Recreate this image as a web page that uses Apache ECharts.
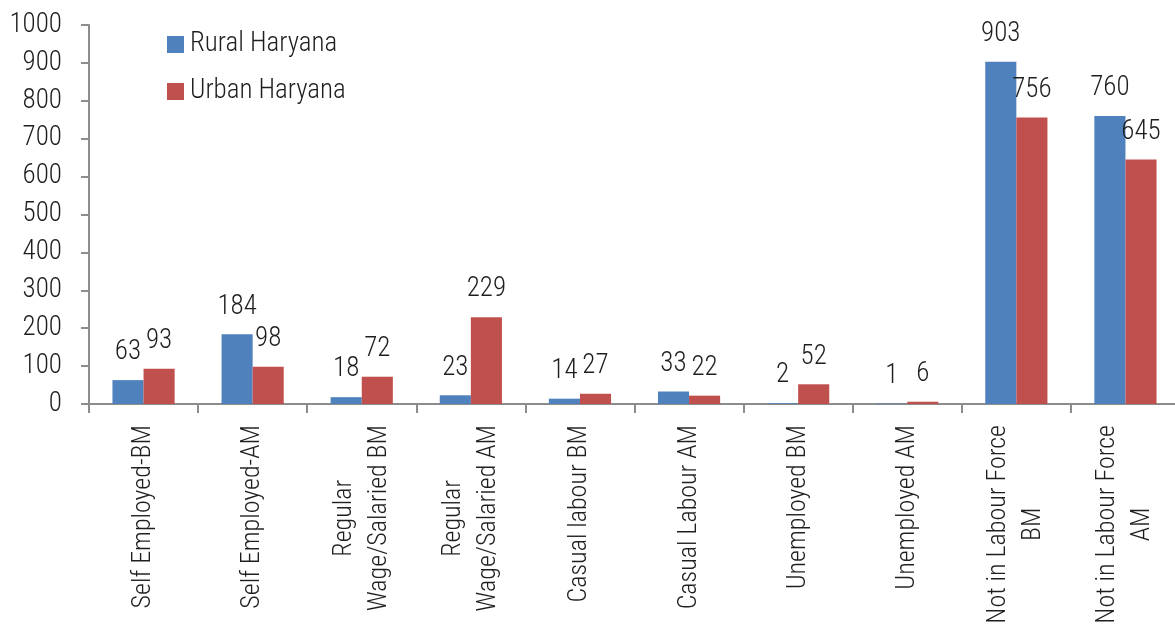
<!DOCTYPE html>
<html>
<head>
<meta charset="utf-8">
<script src="https://cdn.jsdelivr.net/npm/echarts@6/dist/echarts.min.js"></script>
<style>
  html, body { margin: 0; padding: 0; background: #fff; }
  #chart { width: 1175px; height: 629px; }
</style>
</head>
<body>
<div id="chart"></div>
<script>
const categories = [
  'Self Employed-BM',
  'Self Employed-AM',
  'Regular\nWage/Salaried BM',
  'Regular\nWage/Salaried AM',
  'Casual labour BM',
  'Casual Labour AM',
  'Unemployed BM',
  'Unemployed AM',
  'Not in Labour Force\nBM',
  'Not in Labour Force\nAM'
]
const rural = [63, 184, 18, 23, 14, 33, 2, 1, 903, 760]
const urban = [93, 98, 72, 229, 27, 22, 52, 6, 756, 645]

// narrow light face, close to the original condensed font
const font = 'Roboto, "DejaVu Sans Condensed", sans-serif'
const txt = { fontFamily: font, fontStyle: 'condensed', fontWeight: 300, color: '#1e1e1e' }
const axisGray = '#8c8c8c'

const chart = echarts.init(document.getElementById('chart'))

const labelStyle = {
  show: true,
  position: 'top',
  distance: 14,
  ...txt,
  fontSize: 27
}

chart.setOption({
  animation: false,
  textStyle: txt,
  grid: { left: 89, top: 25, width: 1091, height: 379, containLabel: false, outerBoundsMode: 'none' },
  legend: {
    orient: 'vertical',
    left: 167,
    top: 31,
    padding: 0,
    itemWidth: 17,
    itemHeight: 17,
    itemGap: 20,
    icon: 'rect',
    textStyle: { ...txt, fontSize: 27, lineHeight: 20, padding: [0, 0, 0, 1] },
    data: ['Rural Haryana', 'Urban Haryana']
  },
  xAxis: {
    type: 'category',
    data: categories,
    axisLine: { lineStyle: { color: axisGray, width: 2 } },
    axisTick: { show: true, length: 9, lineStyle: { color: axisGray, width: 2 } },
    axisLabel: {
      rotate: 90,
      interval: 0,
      margin: 21,
      ...txt,
      fontSize: 26,
      lineHeight: 35,
      formatter: v => v.split('\n').map(s => '{c|' + s + '}').join('\n'),
      rich: { c: { align: 'center', ...txt, fontSize: 26, lineHeight: 35 } }
    }
  },
  yAxis: {
    type: 'value',
    min: 0,
    max: 1000,
    interval: 100,
    splitLine: { show: false },
    axisLine: { show: true, lineStyle: { color: axisGray, width: 2 } },
    axisTick: { show: true, length: 8, lineStyle: { color: axisGray, width: 2 } },
    axisLabel: { margin: 27, ...txt, fontSize: 27, formatter: v => String(v) }
  },
  series: [
    {
      name: 'Rural Haryana',
      type: 'bar',
      data: rural,
      barGap: '0%',
      barCategoryGap: '43%',
      itemStyle: { color: '#4f81bd' },
      label: labelStyle
    },
    {
      name: 'Urban Haryana',
      type: 'bar',
      data: urban,
      itemStyle: { color: '#c0504d' },
      label: labelStyle
    }
  ]
})
</script>
</body>
</html>
